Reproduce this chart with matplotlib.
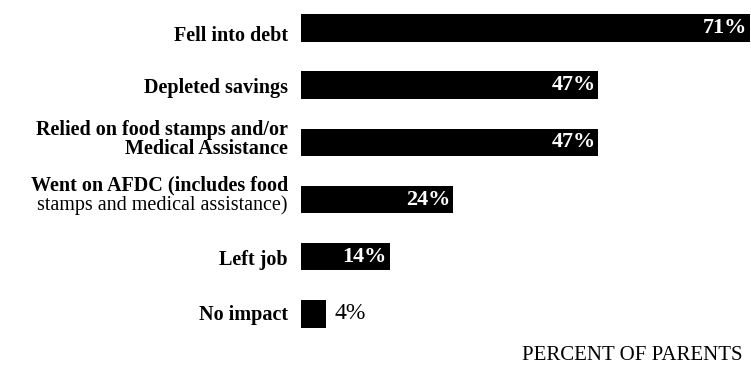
import matplotlib.pyplot as plt

categories = ["Fell into debt", "Depleted savings",
              "Relied on food stamps and/or\nMedical Assistance",
              "Went on AFDC (includes food\nstamps and medical assistance)",
              "Left job", "No impact"]
values = [71, 47, 47, 24, 14, 4]
value_labels = ["71%", "47%", "47%", "24%", "14%", "4%"]

plt.rcParams['font.family'] = ['Liberation Serif', 'DejaVu Serif']

fig = plt.figure(figsize=(7.51, 3.66), dpi=100)
ax = fig.add_axes([301 / 751, 0, 450 / 751, 1])

ypos = list(range(len(values)))
ax.barh(ypos, values, height=0.48, color='black')
ax.set_xlim(0, 71.1)
ax.set_ylim(5.91, -0.49)
ax.axis('off')

# category labels at left of the bars
label_dy = [-6, -2, 2, 3, -2, -1]
for i, lab in enumerate(categories):
    if i == 3:
        first, second = lab.split("\n")
        ax.annotate(first, xy=(0, i), xycoords=('axes fraction', 'data'),
                    xytext=(-9.5, 10), textcoords='offset points',
                    ha='right', va='center', fontsize=14.5, fontweight='bold')
        ax.annotate(second, xy=(0, i), xycoords=('axes fraction', 'data'),
                    xytext=(-9.5, -4), textcoords='offset points',
                    ha='right', va='center', fontsize=14.5)
    else:
        ax.annotate(lab, xy=(0, i), xycoords=('axes fraction', 'data'),
                    xytext=(-9.5, label_dy[i]), textcoords='offset points',
                    ha='right', va='center', fontsize=14.5, fontweight='bold',
                    linespacing=0.95, multialignment='right')

# value labels
for i, (v, t) in enumerate(zip(values, value_labels)):
    if v > 8:
        ax.annotate(t, xy=(v, i), xytext=(-2, 0), textcoords='offset points',
                    ha='right', va='center', fontsize=16, color='white',
                    fontweight='bold')
    else:
        ax.annotate(t, xy=(v, i), xytext=(6, 0), textcoords='offset points',
                    ha='left', va='center', fontsize=17, color='black')

fig.text(632 / 751, 1 - 355 / 366, "PERCENT OF PARENTS", ha='center',
         va='center', fontsize=15)

fig.savefig('out.png', dpi=100)
